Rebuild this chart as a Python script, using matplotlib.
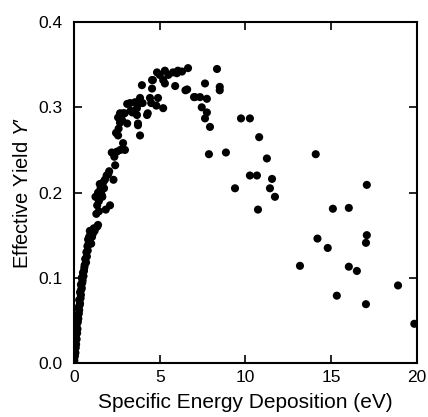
"""Effective yield vs. specific energy deposition scatter."""

import matplotlib

matplotlib.use("Agg")
import matplotlib.pyplot as plt

plt.rcParams["font.family"] = ["Liberation Sans", "DejaVu Sans"]
plt.rcParams["mathtext.fontset"] = "custom"
plt.rcParams["mathtext.rm"] = "Liberation Sans"
plt.rcParams["mathtext.it"] = "Liberation Sans:italic"

# steep rising part (low energy)
energy_low = [
    0.02, 0.05, 0.08, 0.10, 0.12, 0.15, 0.10, 0.18, 0.20, 0.15, 0.22, 0.25,
    0.20, 0.28, 0.30, 0.25, 0.33, 0.35, 0.30, 0.38, 0.40, 0.35, 0.42, 0.45,
    0.40, 0.48, 0.50, 0.45, 0.55, 0.52, 0.58, 0.60,
    0.62, 0.70, 0.65, 0.75, 0.72, 0.80, 0.78, 0.85, 0.82, 0.90, 0.88, 0.95,
    1.00, 0.92, 1.05, 1.10, 1.00, 1.15, 1.20, 1.35, 1.40,
    1.30, 1.35, 1.25, 1.45, 1.40, 1.55, 1.60, 1.50, 1.70, 1.80, 1.75, 1.90,
    2.00, 2.10, 1.85, 2.30, 2.40, 1.45, 1.65, 2.05,
]
yield_low = [
    0.003, 0.008, 0.012, 0.018, 0.022, 0.028, 0.032, 0.035, 0.040, 0.045,
    0.048, 0.052, 0.055, 0.058, 0.062, 0.065, 0.068, 0.070, 0.074, 0.076,
    0.080, 0.083, 0.086, 0.088, 0.092, 0.094, 0.097, 0.100, 0.102, 0.106,
    0.108, 0.112,
    0.115, 0.118, 0.122, 0.125, 0.130, 0.132, 0.137, 0.140, 0.145, 0.143,
    0.148, 0.150, 0.152, 0.155, 0.148, 0.152, 0.140, 0.158, 0.155, 0.160,
    0.162,
    0.175, 0.185, 0.195, 0.190, 0.200, 0.205, 0.198, 0.210, 0.212, 0.215,
    0.205, 0.220, 0.222, 0.185, 0.180, 0.215, 0.232, 0.178, 0.195, 0.225,
]

# peak region
energy_peak = [
    2.20, 2.35, 2.50, 2.86, 2.97, 2.70, 2.57, 2.80, 2.68, 2.95, 3.10, 3.67,
    3.73, 3.85, 4.30, 3.27, 3.85, 4.50, 4.80, 6.65, 6.06, 5.77, 5.30, 4.84,
    4.60, 5.20, 5.30, 3.96, 4.55, 5.90, 6.60, 7.64, 7.05, 7.35, 7.75, 7.45,
    7.75, 7.64, 3.85, 4.43, 4.90, 4.00, 3.56, 3.10, 5.20, 3.67, 2.86, 3.40,
    4.26, 2.57, 2.68, 3.73, 5.50, 6.30, 5.00, 6.00, 4.55, 3.30, 2.45, 2.60,
    7.93, 8.34, 8.50, 8.50, 6.50, 7.00,
]
yield_peak = [
    0.247, 0.242, 0.248, 0.258, 0.250, 0.250, 0.267, 0.285, 0.293, 0.293,
    0.281, 0.291, 0.279, 0.267, 0.293, 0.305, 0.305, 0.305, 0.302, 0.346,
    0.343, 0.341, 0.343, 0.341, 0.332, 0.332, 0.328, 0.326, 0.322, 0.325,
    0.321, 0.328, 0.312, 0.312, 0.310, 0.300, 0.294, 0.287, 0.311, 0.311,
    0.311, 0.305, 0.306, 0.304, 0.299, 0.299, 0.293, 0.294, 0.291, 0.288,
    0.282, 0.281, 0.338, 0.342, 0.338, 0.340, 0.332, 0.296, 0.270, 0.275,
    0.277, 0.345, 0.324, 0.320, 0.320, 0.312,
]

# scattered high-energy tail
energy_tail = [
    9.74, 10.26, 10.80, 7.87, 8.86, 11.25, 14.10, 10.26, 10.67, 11.55, 9.39,
    11.43, 11.72, 10.73, 14.20, 17.08, 15.10, 16.03, 14.80, 17.08, 17.03,
    13.18, 16.03, 16.50, 18.90, 15.33, 17.03, 19.85,
]
yield_tail = [
    0.287, 0.287, 0.265, 0.245, 0.247, 0.240, 0.245, 0.220, 0.220, 0.216,
    0.205, 0.205, 0.195, 0.180, 0.146, 0.209, 0.181, 0.182, 0.135, 0.150,
    0.141, 0.114, 0.113, 0.108, 0.091, 0.079, 0.069, 0.046,
]

x_ticks = [0, 5, 10, 15, 20]
y_ticks = [0.0, 0.1, 0.2, 0.3, 0.4]

fig = plt.figure(figsize=(4.28, 4.17), dpi=100)
ax = fig.add_axes([0.173, 0.1295, 0.801, 0.8175])

energy = energy_low + energy_peak + energy_tail
yields = yield_low + yield_peak + yield_tail
ax.scatter(energy, yields, s=34, color="black", edgecolors="none")

ax.set_xlim(0, 20)
ax.set_ylim(0, 0.4)
ax.set_xticks(x_ticks)
ax.set_yticks(y_ticks)
ax.set_yticklabels([f"{v:.1f}" for v in y_ticks])
ax.tick_params(direction="in", length=6, width=1.2, top=True, right=True,
               labelsize=12.5)
ax.tick_params(axis="x", pad=5)
ax.tick_params(axis="y", pad=8)
for spine in ax.spines.values():
    spine.set_linewidth(1.5)

ax.set_xlabel("Specific Energy Deposition (eV)", fontsize=15, labelpad=6)
ax.set_ylabel("Effective Yield $Y$\u2032", fontsize=14.5, labelpad=5)

fig.savefig("out.png", dpi=100)
